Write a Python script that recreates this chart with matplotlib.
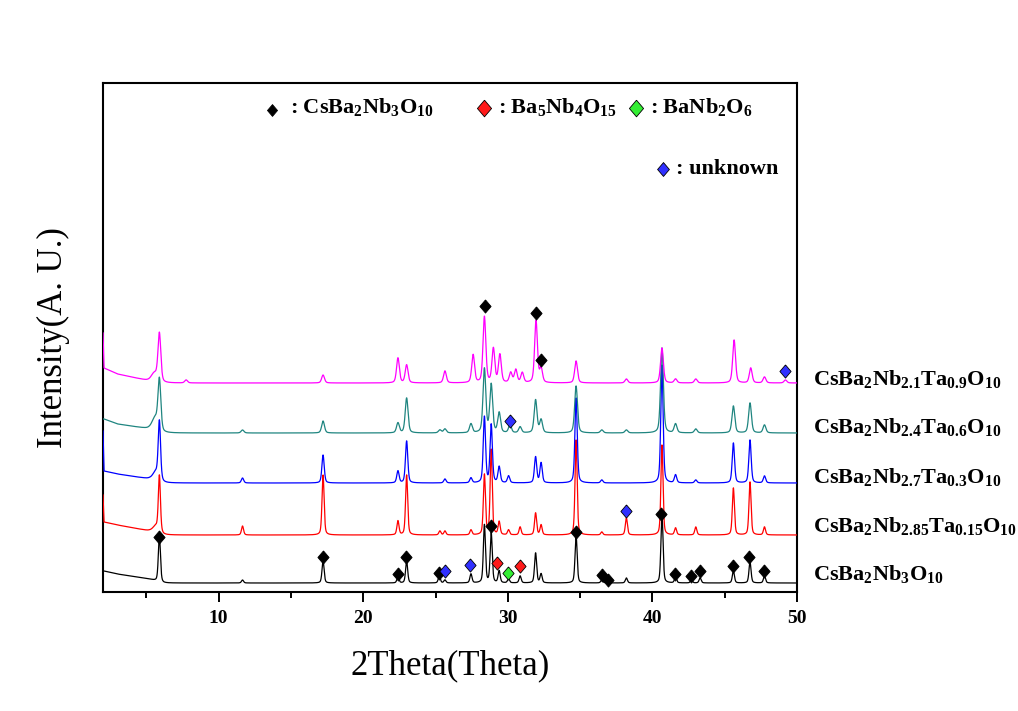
import numpy as np
import matplotlib
matplotlib.use("Agg")
import matplotlib.pyplot as plt

plt.rcParams['font.family'] = ['Liberation Serif', 'DejaVu Serif']
plt.rcParams['mathtext.fontset'] = 'custom'
plt.rcParams['mathtext.rm'] = 'Liberation Serif:bold'
plt.rcParams['mathtext.default'] = 'rm'

# ---------------- data ----------------
x_min, x_max = 2, 50
x_ticks = [10, 20, 30, 40, 50]

sample_labels = [
    r'CsBa$_2$Nb$_3$O$_{10}$',
    r'CsBa$_2$Nb$_{2.85}$Ta$_{0.15}$O$_{10}$',
    r'CsBa$_2$Nb$_{2.7}$Ta$_{0.3}$O$_{10}$',
    r'CsBa$_2$Nb$_{2.4}$Ta$_{0.6}$O$_{10}$',
    r'CsBa$_2$Nb$_{2.1}$Ta$_{0.9}$O$_{10}$',
]
line_colors = ['#000000', '#ff0000', '#0000ff', '#1f8580', '#ff00ff']
offsets = [9, 57, 109, 159, 209]          # stacking offset of each pattern (a.u.)
peak_widths = [0.17, 0.17, 0.19, 0.23, 0.23]  # FWHM, degrees

# peak positions (2theta) and heights (a.u.) for each pattern
pos_x0 = [5.9, 11.65, 17.22, 22.4, 23.0, 25.26, 25.65, 27.45, 28.38, 28.85, 29.4,
          30.05, 30.85, 31.92, 32.3, 34.72, 36.5, 36.9, 38.2, 40.66, 41.6, 42.7,
          43.3, 45.6, 46.75, 47.75]
hgt_x0 = [46, 3, 22, 6, 22, 7, 3, 9, 58, 50, 12,
          4, 7, 30, 9, 48, 3, 2, 5, 70, 6, 3,
          5, 12, 21, 7]

pos_x15 = [5.65, 5.9, 11.65, 17.22, 22.4, 23.0, 25.3, 25.65, 27.45, 28.38, 28.85,
           29.4, 30.05, 30.85, 31.92, 32.3, 34.72, 36.5, 38.2, 40.66, 41.6, 43.0,
           45.6, 46.75, 47.75]
hgt_x15 = [6, 56, 9, 60, 14, 60, 4, 4, 5, 60, 85,
           13, 5, 8, 22, 10, 95, 3, 17, 90, 7, 8,
           47, 53, 8]

pos_x30 = [5.65, 5.9, 11.65, 17.22, 22.4, 23.0, 25.65, 27.45, 28.38, 28.85, 29.4,
           30.05, 31.92, 32.3, 34.72, 36.5, 40.66, 41.6, 43.0, 45.6, 46.75, 47.75]
hgt_x30 = [8, 58, 5, 28, 12, 42, 4, 5, 66, 58, 16,
           7, 26, 20, 85, 3, 118, 8, 3, 40, 43, 7]

pos_x60 = [5.6, 5.9, 11.65, 17.22, 22.4, 23.0, 25.3, 25.65, 27.45, 28.38, 28.85,
           29.4, 30.15, 30.85, 31.92, 32.3, 34.72, 36.5, 38.2, 40.66, 41.6, 43.0,
           45.6, 46.75, 47.75]
hgt_x60 = [12, 50, 3, 12, 10, 35, 3, 4, 9, 64, 48,
           20, 8, 6, 33, 13, 47, 3, 3, 85, 9, 4,
           27, 30, 8]

pos_x90 = [5.55, 5.9, 7.75, 17.22, 22.4, 23.0, 25.65, 27.6, 28.38, 29.0, 29.45,
           30.2, 30.55, 31.0, 31.95, 32.3, 34.72, 38.2, 40.66, 41.6, 43.0, 45.65,
           46.8, 47.75, 49.2]
hgt_x90 = [8, 48, 3, 8, 25, 18, 12, 28, 66, 34, 28,
           10, 13, 10, 62, 14, 22, 4, 35, 4, 4, 43,
           15, 6, 3]

peak_positions = [pos_x0, pos_x15, pos_x30, pos_x60, pos_x90]
peak_heights = [hgt_x0, hgt_x15, hgt_x30, hgt_x60, hgt_x90]

# low-angle background knots (2theta) and background level above offset
bg_angles = [2.0, 2.07, 3.0, 5.2, 6.2, 50.0]
bg_x0 = [12, 12, 9, 4, 0, 0]
bg_x15 = [40, 13, 10, 4, 0, 0]
bg_x30 = [52, 12, 9, 4, 0, 0]
bg_x60 = [14, 14, 9, 4, 0, 0]
bg_x90 = [50, 15, 9, 2, 0, 0]
backgrounds = [bg_x0, bg_x15, bg_x30, bg_x60, bg_x90]

# phase markers: (2theta, level)
csbnb_x = [5.9, 17.24, 22.41, 22.99, 25.26, 28.85, 34.72, 36.48, 36.9, 40.6, 41.59,
           42.69, 43.31, 45.56, 46.71, 47.7, 28.43, 31.95, 32.28]
csbnb_y = [55, 35, 18, 35, 19, 66, 60, 17, 12, 78, 18,
           16, 21, 26, 35, 21, 286, 279, 232]
ba5nb4_x = [29.28, 30.85]
ba5nb4_y = [29, 26]
banb2_x = [30.04]
banb2_y = [19]
unknown_x = [25.67, 27.4, 30.16, 38.2, 49.17]
unknown_y = [21, 27, 171, 81, 221]

legend_labels = [r': CsBa$_2$Nb$_3$O$_{10}$', r': Ba$_5$Nb$_4$O$_{15}$',
                 r': BaNb$_2$O$_6$', ': unknown']
marker_colors = ['#000000', '#ff1a1a', '#33ee33', '#3030ff']

# ---------------- drawing ----------------
W, H = 1018, 711
fig = plt.figure(figsize=(W / 100, H / 100), dpi=100)
ax = fig.add_axes([103 / W, (H - 592) / H, (797 - 103) / W, (592 - 83) / H])

tt = np.linspace(x_min, x_max, 9601)


def pattern(pos, hgt, fwhm):
    y = np.zeros_like(tt)
    g = fwhm / 2.3548
    for p, h in zip(pos, hgt):
        lor = 1.0 / (1.0 + ((tt - p) / (fwhm / 2)) ** 2)
        gau = np.exp(-0.5 * ((tt - p) / g) ** 2)
        y += h * (0.4 * lor + 0.6 * gau)
    return y


for i in range(5):
    pos = peak_positions[i]
    hgt = peak_heights[i]
    narrow = [(p, h) for p, h in zip(pos, hgt) if p >= 5.8]
    broad = [(p, h) for p, h in zip(pos, hgt) if p < 5.8]
    y = offsets[i] + np.interp(tt, bg_angles, backgrounds[i])
    y += pattern([p for p, _ in narrow], [h for _, h in narrow], peak_widths[i])
    y += pattern([p for p, _ in broad], [h for _, h in broad], 0.5)
    ax.plot(tt, y, color=line_colors[i], lw=0.9, zorder=2 + i)

diamond = [(0, 1), (0.85, 0), (0, -1), (-0.85, 0), (0, 1)]
mk = dict(marker=diamond, ms=9.5, ls='none', mec='#000000', mew=0.6, zorder=20)
ax.plot(csbnb_x, csbnb_y, mfc=marker_colors[0], **mk)
ax.plot(ba5nb4_x, ba5nb4_y, mfc=marker_colors[1], **mk)
ax.plot(banb2_x, banb2_y, mfc=marker_colors[2], **mk)
ax.plot(unknown_x, unknown_y, mfc=marker_colors[3], **mk)

ax.set_xlim(x_min, x_max)
ax.set_ylim(0, 509)
ax.set_yticks([])
ax.set_xticks(x_ticks)
ax.set_xticks([5, 15, 25, 35, 45], minor=True)
ax.tick_params(axis='x', which='major', direction='out', length=7, width=1.4,
               labelsize=14, pad=6)
ax.tick_params(axis='x', which='minor', direction='out', length=4, width=1.4)
for lab in ax.get_xticklabels():
    lab.set_fontweight('bold')
for s in ax.spines.values():
    s.set_linewidth(1.5)

ax.set_xlabel('2Theta(Theta)', fontsize=25, labelpad=16)
ax.set_ylabel('Intensity(A. U.)', fontsize=25, labelpad=24)

# legend (phase markers)
leg_items = [(0.2435, 0.946, 0.2695, 0.942, 8.5),
             (0.549, 0.951, 0.569, 0.942, 12),
             (0.768, 0.951, 0.788, 0.942, 12),
             (0.807, 0.831, 0.826, 0.822, 10)]
for (mx, my, tx, ty, ms), lab, c in zip(leg_items, legend_labels, marker_colors):
    ax.plot([mx], [my], marker=diamond, ms=ms, mfc=c, mec='#000000', mew=0.6,
            ls='none', transform=ax.transAxes, clip_on=False, zorder=30)
    ax.text(tx, ty, lab, transform=ax.transAxes, fontsize=16, fontweight='bold',
            ha='left', va='baseline')

# sample labels at the right
label_y = [0.0236, 0.1185, 0.2135, 0.3118, 0.4067]
for lab, yy in zip(sample_labels, label_y):
    ax.text(1.023, yy, lab, transform=ax.transAxes, fontsize=16,
            fontweight='bold', ha='left', va='baseline', clip_on=False)

fig.savefig('out.png', dpi=100)
